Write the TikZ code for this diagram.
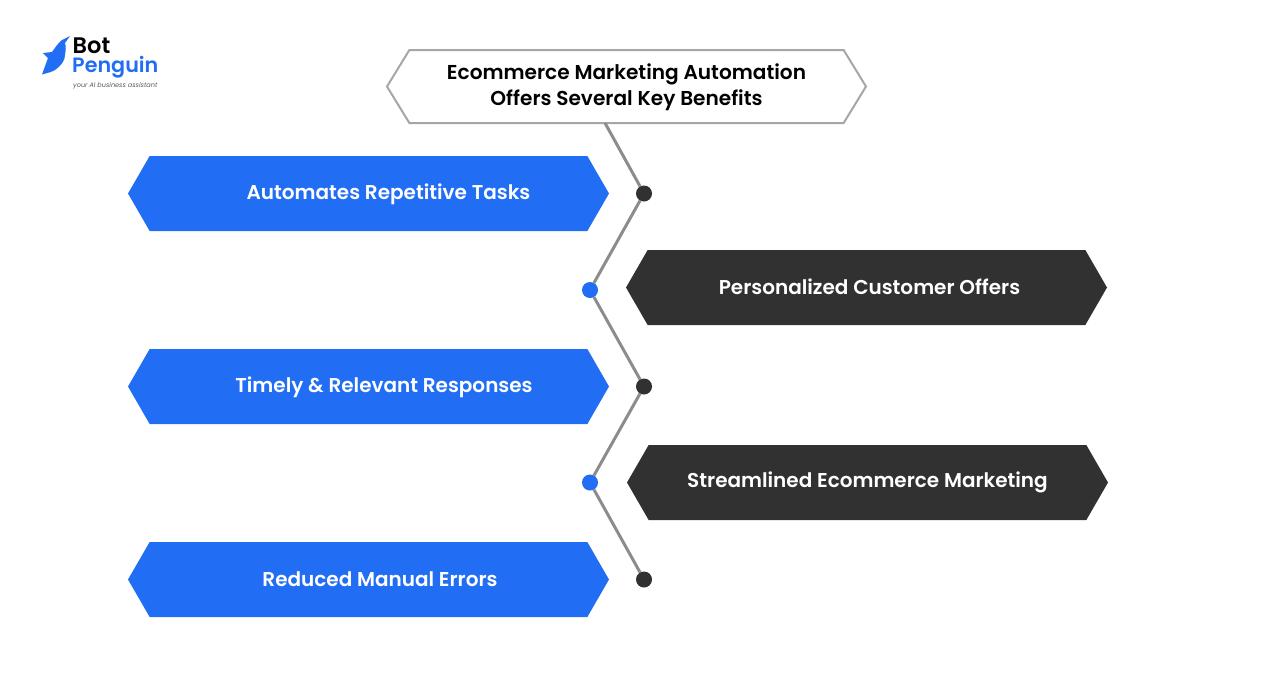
\documentclass[tikz,border=0pt]{standalone}
\usepackage{fontspec}
\setmainfont{Poppins}[UprightFont={* Medium},ItalicFont={* Italic},BoldFont={* SemiBold}]
\usetikzlibrary{positioning,shapes.symbols}
\definecolor{botblue}{HTML}{216EF5}
\definecolor{botdark}{HTML}{313131}
\definecolor{botgray}{HTML}{A6A6A6}
\definecolor{botline}{HTML}{8C8C8C}
\tikzset{
	hexbox/.style={shape=signal,signal to=east and west,signal pointer angle=120,minimum width=481pt,minimum height=75pt,inner sep=0pt,outer sep=0pt},
	bluebox/.style={hexbox,fill=botblue},
	darkbox/.style={hexbox,fill=botdark},
	titlebox/.style={hexbox,draw=botgray,line width=2pt,fill=white,signal pointer angle=117,minimum width=479pt,minimum height=73pt},
	boxtext/.style={text=white,font=\bfseries\fontsize{20}{24}\selectfont},
	titletext/.style={text=black,align=center,font=\bfseries\fontsize{20.1}{26}\selectfont},
	dot/.style={circle,minimum size=16pt,inner sep=0pt,outer sep=0pt},
	spine/.style={draw=botline,line width=3pt}
}
\begin{document}
\begin{tikzpicture}[x=1pt,y=1pt]
		\useasboundingbox	(0,0) rectangle (1288,-686);

		\node[titlebox]									(title)	at (626.5,-86.5)	{};
		\node[titletext]								(titlet)	at (626.5,-87)	{Ecommerce Marketing Automation\\Offers Several Key Benefits};

		\node[bluebox]									(a1)	at (368.5,-193.5)	{};
		\node[bluebox,below=118pt of a1]				(a2)	{};
		\node[bluebox,below=118pt of a2]				(a3)	{};
		\node[darkbox]									(b1)	at (866.5,-287.5)	{};
		\node[darkbox,below=120pt of b1,xshift=1pt]		(b2)	{};

		\node[boxtext,xshift=20pt,yshift=-0.5pt]	(a1t)	at (a1)	{Automates Repetitive Tasks};
		\node[boxtext,xshift=15.5pt,yshift=-0.5pt]	(a2t)	at (a2)	{Timely \& Relevant Responses};
		\node[boxtext,xshift=11.5pt]	(a3t)	at (a3)	{Reduced Manual Errors};
		\node[boxtext,xshift=3pt,yshift=0.5pt]	(b1t)	at (b1)	{Personalized Customer Offers};
		\node[boxtext,yshift=0pt]	(b2t)	at (b2)	{Streamlined Ecommerce Marketing};

		\node[dot,fill=botdark,right=27pt of a1]				(d1)	{};
		\node[dot,fill=botblue,left=28pt of b1,yshift=-2.5pt]	(d2)	{};
		\node[dot,fill=botdark,right=27pt of a2]				(d3)	{};
		\node[dot,fill=botblue,left=29pt of b2]					(d4)	{};
		\node[dot,fill=botdark,right=27pt of a3]				(d5)	{};

		\coordinate[xshift=-21.5pt]	(start)	at (title.south);
		\draw[spine]	(start)	--	(d1);
		\draw[spine]	(d1)	--	(d2);
		\draw[spine]	(d2)	--	(d3);
		\draw[spine]	(d3)	--	(d4);
		\draw[spine]	(d4)	--	(d5);

		% logo
		\fill[botblue]	(70,-36) -- (62,-40) .. controls (58,-43) and (55,-48) .. (52,-52) -- (43,-53) -- (48,-58) -- (42,-74.5) .. controls (47,-73) and (52,-72) .. (55,-70) .. controls (62,-65) and (65,-60) .. (65,-55) .. controls (66,-50) and (66,-46) .. (65,-43) -- cycle;
		\node[anchor=west,inner sep=0pt,font=\bfseries\fontsize{22.5}{22}\selectfont]	(bot)	at (72.5,-45.5)	{Bot};
		\node[anchor=west,inner sep=0pt,text=botblue,font=\bfseries\fontsize{20.7}{21}\selectfont]	(penguin)	at (72,-67)	{Penguin};
		\node[anchor=west,inner sep=0pt,text=black!65,font=\itshape\fontsize{6.5}{7}\selectfont]	(tagline)	at (73,-85.5)	{your AI business assistant};
	\end{tikzpicture}
\end{document}
